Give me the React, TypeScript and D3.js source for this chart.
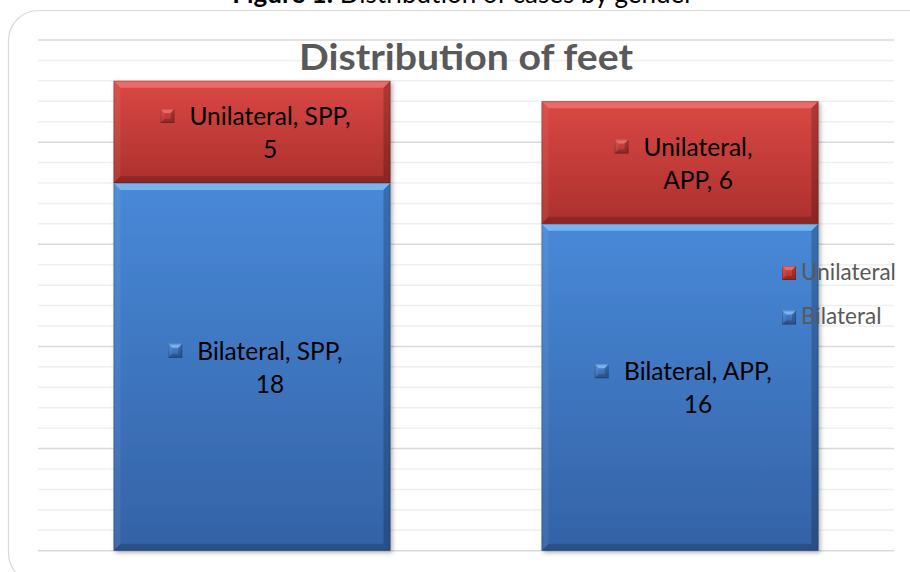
import React from 'react';
import * as d3 from 'd3';

const categories = ['SPP', 'APP'];
const seriesNames = ['Bilateral', 'Unilateral'];
const bilateral = [18, 16];
const unilateral = [5, 6];
const yMax = 25;
const firstLineWords: Record<string, number[]> = { Bilateral: [2, 2], Unilateral: [2, 1] };
const chartTitle = 'Distribution of feet';
const captionBold = 'Figure 1:';
const captionRest = ' Distribution of cases by gender';

const W = 910;
const H = 572;
const plot = { left: 38, right: 894, top: 40, bottom: 550.7 };
const FONT = 'Lato, "Open Sans", sans-serif';
const LABEL_SIZE = 24.5;

const colors: Record<string, { top: string; bottom: string; bevel: string }> = {
  Bilateral: { top: '#4889d8', bottom: '#3462a6', bevel: '#78b4f1' },
  Unilateral: { top: '#da4844', bottom: '#ac302d', bevel: '#ea6c67' },
};

let ctx: CanvasRenderingContext2D | null = null;
function measure(text: string, size: number, weight = 'normal') {
  if (!ctx) ctx = document.createElement('canvas').getContext('2d');
  if (!ctx) return text.length * size * 0.5;
  ctx.font = `${weight} ${size}px Lato`;
  return ctx.measureText(text).width;
}

function Bevel({ x, y, w, h, name, b }: { x: number; y: number; w: number; h: number; name: string; b: number }) {
  const c = colors[name];
  return (
    <g>
      <rect x={x} y={y} width={w} height={h} fill={`url(#grad-${name})`} />
      <polygon points={`${x},${y} ${x + w},${y} ${x + w - b},${y + b} ${x + b},${y + b}`} fill={c.bevel} />
      <polygon points={`${x},${y} ${x + b},${y + b} ${x + b},${y + h - b} ${x},${y + h}`} fill="#ffffff" fillOpacity={0.06} />
      <polygon points={`${x + w},${y} ${x + w},${y + h} ${x + w - b},${y + h - b} ${x + w - b},${y + b}`} fill="#000000" fillOpacity={0.2} />
      <polygon points={`${x},${y + h} ${x + w},${y + h} ${x + w - b},${y + h - b} ${x + b},${y + h - b}`} fill="#000000" fillOpacity={0.18} />
      <rect x={x + 0.5} y={y + 0.5} width={w - 1} height={h - 1} fill="none" stroke="#000" strokeOpacity={0.18} />
    </g>
  );
}

export default function App() {
  const x = d3
    .scaleBand<string>()
    .domain(categories)
    .range([plot.left, plot.right])
    .paddingInner(0.353)
    .paddingOuter(0.1765);
  const y = d3.scaleLinear().domain([0, yMax]).range([plot.bottom, plot.top]);
  const rows = categories.map((c, i) => ({ cat: c, Bilateral: bilateral[i], Unilateral: unilateral[i] }));
  const stack = d3.stack<any>().keys(seriesNames)(rows);
  const ticks = d3.range(0, yMax + 1);

  const legendItems = [
    { name: 'Unilateral', baseline: 279.5 },
    { name: 'Bilateral', baseline: 324 },
  ];

  return (
    <svg width={W} height={H} style={{ position: 'absolute', left: 0, top: 0, background: '#fff' }} fontFamily={FONT}>
      <defs>
        {seriesNames.map((n) => (
          <linearGradient key={n} id={`grad-${n}`} x1="0" y1="0" x2="0" y2="1">
            <stop offset="0" stopColor={colors[n].top} />
            <stop offset="1" stopColor={colors[n].bottom} />
          </linearGradient>
        ))}
        <filter id="shadow" x="-10%" y="-10%" width="120%" height="120%">
          <feDropShadow dx="2" dy="2" stdDeviation="2" floodColor="#000" floodOpacity="0.3" />
        </filter>
      </defs>
      <text x={463} y={2.5} textAnchor="middle" fontSize={26} fill="#000">
        <tspan fontWeight="bold">{captionBold}</tspan>
        <tspan>{captionRest}</tspan>
      </text>
      <rect x={8.5} y={10.5} width={930} height={572.5} rx={30} ry={30} fill="#fff" stroke="#d9d9d9" strokeWidth={1.2} />
      {ticks.map((t) => (
        <line
          key={t}
          x1={plot.left}
          x2={plot.right}
          y1={y(t)}
          y2={y(t)}
          stroke={t % 5 === 0 ? '#d9d9d9' : '#efefef'}
          strokeWidth={1.5}
        />
      ))}
      <text
        x={(plot.left + plot.right) / 2}
        y={69.5}
        textAnchor="middle"
        fontSize={37}
        fontWeight="bold"
        fill="#595959"
        textLength={334}
        lengthAdjust="spacingAndGlyphs"
      >
        {chartTitle}
      </text>
      <g filter="url(#shadow)">
        {stack.map((s) =>
          s.map((d, i) => {
            const cat = categories[i];
            const x0 = x(cat)!;
            const y0 = y(d[1]);
            const h = y(d[0]) - y(d[1]);
            return <Bevel key={s.key + cat} x={x0} y={y0} w={x.bandwidth()} h={h} name={s.key} b={7} />;
          })
        )}
      </g>
      {stack.map((s) =>
        s.map((d, i) => {
          const cat = categories[i];
          const name = s.key;
          const val = name === 'Bilateral' ? bilateral[i] : unilateral[i];
          const words = `${name}, ${cat}, ${val}`.split(' ');
          const n = firstLineWords[name][i];
          const l1 = words.slice(0, n).join(' ');
          const l2 = words.slice(n).join(' ');
          const c = (y(d[0]) + y(d[1])) / 2;
          const tc = x(cat)! + x.bandwidth() / 2 + 18;
          const w1 = measure(l1, LABEL_SIZE);
          const kx = tc - w1 / 2 - 29;
          return (
            <g key={'lab' + name + cat}>
              <Bevel x={kx} y={c - 7 - 16} w={14} h={14} name={name} b={4} />
              <text x={tc} y={c - 7} textAnchor="middle" fontSize={LABEL_SIZE} fill="#000">
                {l1}
              </text>
              <text x={tc} y={c + 26} textAnchor="middle" fontSize={LABEL_SIZE} fill="#000">
                {l2}
              </text>
            </g>
          );
        })
      )}
      {legendItems.map((li) => (
        <g key={li.name}>
          <Bevel x={782} y={li.baseline - 13.5} w={14} h={14} name={li.name} b={4} />
          <text x={801} y={li.baseline} fontSize={22.5} fill="#595959">
            {li.name}
          </text>
        </g>
      ))}
    </svg>
  );
}
